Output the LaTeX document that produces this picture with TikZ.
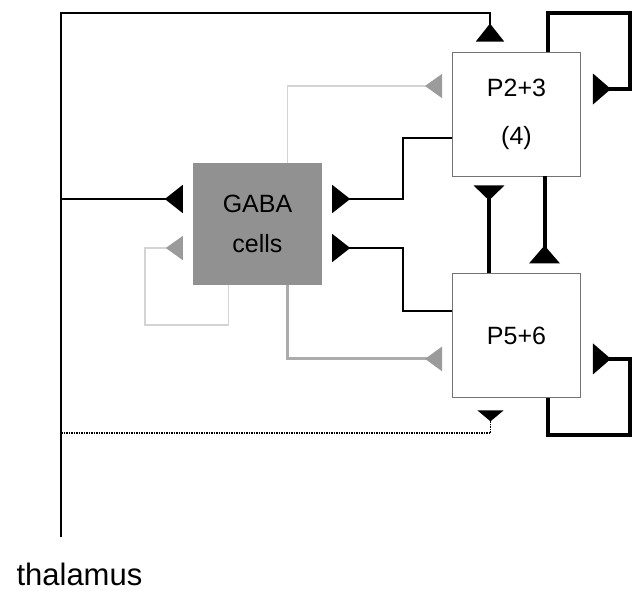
\documentclass[tikz,border=0pt]{standalone}
\usepackage{fontspec}
\setmainfont{Liberation Sans}
\usetikzlibrary{positioning, arrows.meta}
\definecolor{gabagray}{RGB}{145,145,145}
\definecolor{boxline}{RGB}{115,115,115}
\definecolor{lightline}{RGB}{212,212,212}
\definecolor{midline}{RGB}{172,172,172}
\definecolor{tipgray}{RGB}{155,155,155}

\begin{document}
\begin{tikzpicture}[x=1pt, y=-1pt,
  node distance=97pt,
  cellbox/.style={draw=boxline, line width=0.9pt, minimum width=128pt, minimum height=124pt,
                  align=center, font=\fontsize{25}{30}\selectfont},
  syn/.style={-{Triangle[reversed, width=28pt, length=18pt]}, shorten >=10pt, line width=1.2pt},
  bigsyn/.style={-{Triangle[reversed, width=30pt, length=18pt]}, shorten >=12pt, line width=4pt},
  graysyn/.style={-{Triangle[reversed, width=24pt, length=17pt, color=tipgray]}, shorten >=10pt}
]
  \useasboundingbox (0,0) rectangle (632,590);

  \node[cellbox] (p23) at (516.5,114) {P2+3\\[18pt](4)};
  \node[cellbox, below=of p23] (p56) {P5+6};
  \node[fill=gabagray, minimum width=129pt, minimum height=122pt, align=center,
        font=\fontsize{25}{30}\selectfont] (gaba) at (257.5,224) {GABA\\[10pt]cells};
  \node[anchor=base west, font=\fontsize{31}{37}\selectfont] (thal) at (13,585) {thalamus};

  \coordinate (ttop) at (61,13);
  \coordinate (tbot) at (61,537);
  \coordinate (rtop) at (630,13);
  \coordinate (rbot) at (630,435);
  \coordinate (midx) at (403,0);
  \coordinate (lpc) at (145,325);
  \coordinate (dotc) at (61,433);
  \coordinate (gin1) at ([yshift=25pt]gaba.east);
  \coordinate (gin2) at ([yshift=-24pt]gaba.east);

  \draw[syn, line width=2pt] (tbot) -- (ttop) -| ([xshift=-26.5pt]p23.north);
  \draw[syn, line width=1.7pt] ([yshift=25pt]gaba.west -| ttop) -- ([yshift=25pt]gaba.west);
  \draw[dash pattern=on 1.5pt off 1pt, line width=1.5pt,
        -{Triangle[reversed, width=26pt, length=11pt]}, shorten >=12pt]
        (dotc) -| ([xshift=-26pt]p56.south);

  \draw[syn] ([yshift=-24pt]p23.west) -| (gin1 -| midx) -- (gin1);
  \draw[syn] ([yshift=25pt]p56.west) -| (gin2 -| midx) -- (gin2);

  \draw[graysyn, lightline, line width=1.3pt] ([xshift=30pt]gaba.north) |- ([yshift=28pt]p23.west);
  \draw[graysyn, lightline, line width=1.3pt] ([xshift=-29pt]gaba.south) |- (lpc) |- ([yshift=-24pt]gaba.west);
  \draw[graysyn, midline, line width=3pt] ([xshift=30pt]gaba.south) |- ([yshift=-23pt]p56.west);

  \draw[bigsyn] ([xshift=31pt]p23.north) |- (rtop) |- ([yshift=25pt]p23.east);
  \draw[bigsyn] ([xshift=31pt]p56.south) |- (rbot) |- ([yshift=-23pt]p56.east);
  \draw[bigsyn, shorten >=9pt, -{Triangle[reversed, width=30pt, length=15pt]}]
        ([xshift=-27.5pt]p56.north) -- ([xshift=-27.5pt]p23.south);
  \draw[bigsyn, shorten >=10pt] ([xshift=28pt]p23.south) -- ([xshift=28pt]p56.north);
\end{tikzpicture}
\end{document}
